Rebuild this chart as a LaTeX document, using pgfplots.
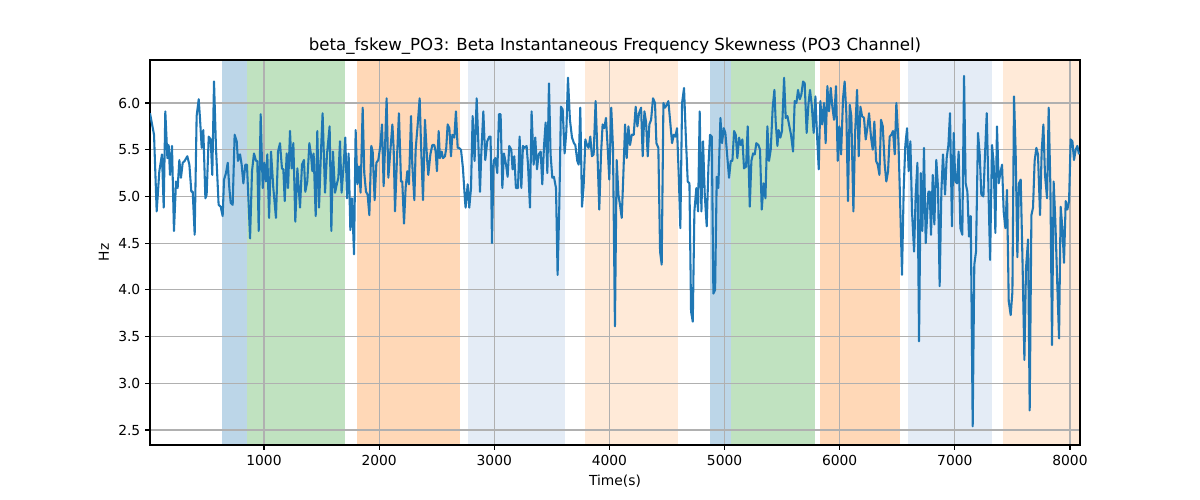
\documentclass[border=0pt]{standalone}
\usepackage{pgfplots}
\pgfplotsset{compat=1.18}
\usepackage{fontspec}
\setmainfont{DejaVu Sans}
\definecolor{tabblue}{RGB}{31,119,180}
\definecolor{spanblue}{RGB}{188,214,232}
\definecolor{spangreen}{RGB}{192,226,192}
\definecolor{spanorange}{RGB}{255,216,183}
\definecolor{spanlblue}{RGB}{228,236,246}
\definecolor{spanlorange}{RGB}{255,234,216}
\definecolor{gridgray}{RGB}{176,176,176}
\begin{document}
\begin{tikzpicture}
\begin{axis}[
  set layers,
  scale only axis,
  anchor=south west,
  at={(1.5in,0.55in)},
  width=9.3in, height=3.85in,
  xmin=10, xmax=8087, ymin=2.34, ymax=6.46,
  xtick={1000,2000,3000,4000,5000,6000,7000,8000},
  ytick={2.5,3.0,3.5,4.0,4.5,5.0,5.5,6.0},
  yticklabel style={/pgf/number format/.cd,fixed,fixed zerofill,precision=1},
  xticklabel style={/pgf/number format/.cd,1000 sep={}},
  /pgf/number format/assume math mode=true,
  tick label style={font=\fontsize{10}{12}\selectfont},
  grid=major,
  major grid style={gridgray, line width=0.8pt},
  tick align=outside,
  xtick pos=bottom, ytick pos=left,
  major tick length=3.5pt,
  tick style={black, line width=0.8pt},
  axis line style={line width=0.8pt},
  title={beta\_fskew\_PO3: Beta Instantaneous Frequency Skewness (PO3 Channel)},
  title style={font=\fontsize{12}{14}\selectfont, yshift=-5.5pt},
  xlabel={Time(s)}, ylabel={Hz},
  label style={font=\fontsize{10}{12}\selectfont},
  xlabel style={yshift=0pt},
  ylabel style={yshift=0pt},
]
\addplot[on layer=axis background, draw=none, fill=spanblue] coordinates {(635,6.46) (852,6.46)} \closedcycle;
\addplot[on layer=axis background, draw=none, fill=spangreen] coordinates {(852,6.46) (1703,6.46)} \closedcycle;
\addplot[on layer=axis background, draw=none, fill=spanorange] coordinates {(1808,6.46) (2702,6.46)} \closedcycle;
\addplot[on layer=axis background, draw=none, fill=spanlblue] coordinates {(2772,6.46) (3614,6.46)} \closedcycle;
\addplot[on layer=axis background, draw=none, fill=spanlorange] coordinates {(3788,6.46) (4596,6.46)} \closedcycle;
\addplot[on layer=axis background, draw=none, fill=spanblue] coordinates {(4874,6.46) (5056,6.46)} \closedcycle;
\addplot[on layer=axis background, draw=none, fill=spangreen] coordinates {(5056,6.46) (5785,6.46)} \closedcycle;
\addplot[on layer=axis background, draw=none, fill=spanorange] coordinates {(5829,6.46) (6524,6.46)} \closedcycle;
\addplot[on layer=axis background, draw=none, fill=spanlblue] coordinates {(6593,6.46) (7323,6.46)} \closedcycle;
\addplot[on layer=axis background, draw=none, fill=spanlorange] coordinates {(7418,6.46) (8087,6.46)} \closedcycle;
\addplot[tabblue, line width=1.5pt, line join=round, mark=none] coordinates {
(10,5.89) (45,5.66) (68,4.84) (91,5.27) (114,5.45) (129,4.88) (143,5.91) (161,5.41) (172,5.55) (184,5.23) (201,5.54) (218,4.63) (236,5.16) (250,5.09) (265,5.39) (279,5.20) (294,5.36) (311,5.38) (334,5.43) (352,5.34) (369,5.05) (381,5.05) (398,4.59) (415,5.86) (433,6.04) (444,5.84) (459,5.52) (473,5.71) (491,4.98) (502,5.02) (520,5.64) (537,5.61) (551,5.23) (566,6.23) (583,5.52) (606,4.91) (624,4.89) (641,4.79) (653,5.18) (670,5.25) (685,5.36) (699,5.09) (711,4.93) (728,4.91) (745,5.66) (763,5.59) (774,5.38) (792,5.45) (806,5.34) (821,5.14) (838,5.34) (852,5.34) (867,4.91) (879,4.55) (896,5.27) (913,5.46) (931,5.38) (942,5.38) (954,4.63) (971,5.88) (989,5.09) (1003,5.36) (1017,5.16) (1029,5.45) (1044,4.77) (1061,5.48) (1081,5.09) (1104,4.77) (1122,5.48) (1139,5.57) (1156,5.30) (1168,5.29) (1180,4.95) (1197,5.46) (1209,5.09) (1226,5.70) (1240,5.30) (1255,5.57) (1272,4.73) (1290,5.30) (1313,4.88) (1330,5.34) (1347,5.39) (1359,5.05) (1376,5.16) (1394,5.57)
(1408,5.45) (1420,5.27) (1431,5.46) (1449,4.79) (1463,5.70) (1478,4.88) (1495,5.48) (1509,5.89) (1530,5.04) (1547,5.45) (1570,5.75) (1585,4.63) (1599,5.48) (1617,5.04) (1634,5.14) (1646,5.20) (1660,5.59) (1674,5.04) (1692,5.34) (1706,5.63) (1721,4.98) (1735,5.46) (1750,4.64) (1764,4.98) (1782,4.38) (1796,5.71) (1811,5.13) (1825,5.32) (1839,5.04) (1857,5.95) (1871,5.25) (1886,5.05) (1900,5.02) (1915,4.80) (1932,5.54) (1944,5.48) (1961,4.96) (1976,5.36) (1993,5.39) (2010,5.54) (2025,5.77) (2039,5.11) (2051,5.52) (2065,6.05) (2080,5.20) (2097,5.48) (2115,5.77) (2126,5.52) (2138,4.84) (2155,5.41) (2172,5.89) (2190,5.16) (2201,5.16) (2216,4.71) (2230,5.09) (2245,5.27) (2259,5.13) (2277,5.86) (2288,5.34) (2306,4.96) (2317,5.50) (2335,5.77) (2352,6.05) (2363,5.59) (2381,4.96) (2398,5.82) (2416,5.41) (2427,5.23) (2445,5.45) (2462,5.55) (2479,5.55) (2491,5.48) (2502,5.27) (2517,5.70) (2528,5.41) (2543,5.48) (2555,5.41) (2572,5.43) (2583,5.52) (2595,5.77) (2610,5.73) (2624,5.43) (2636,5.66) (2653,5.63) (2667,5.91) (2682,5.52) (2693,5.52) (2711,5.50) (2728,5.30) (2746,4.95)
(2751,4.88) (2769,5.13) (2783,4.88) (2798,5.09) (2812,5.86) (2829,5.38) (2847,6.05) (2861,5.59) (2876,5.05) (2887,5.45) (2905,5.91) (2922,5.39) (2939,5.59) (2957,5.64) (2968,5.64) (2980,4.50) (2994,5.38) (3009,5.41) (3026,5.25) (3041,5.88) (3055,5.88) (3070,5.09) (3084,5.46) (3102,5.34) (3116,5.21) (3130,5.54) (3148,5.50) (3159,5.29) (3174,5.43) (3188,5.09) (3206,5.09) (3220,5.64) (3235,5.09) (3249,5.54) (3264,5.52) (3281,5.54) (3293,5.34) (3310,4.88) (3324,5.91) (3342,5.34) (3356,5.63) (3371,5.29) (3385,5.45) (3403,5.48) (3417,5.13) (3432,5.54) (3446,5.79) (3461,5.25) (3475,6.21) (3489,5.45) (3504,5.20) (3518,5.21) (3536,5.09) (3550,4.16) (3565,4.91) (3579,5.96) (3594,5.93) (3611,5.46) (3626,5.70) (3640,6.27) (3657,5.82) (3675,5.63) (3692,5.57) (3704,5.55) (3721,5.38) (3733,5.34) (3747,5.95) (3762,4.89) (3776,5.11) (3791,5.61) (3805,5.55) (3819,5.52) (3834,5.64) (3848,5.43) (3863,5.45) (3880,6.02) (3898,5.39) (3912,4.86) (3927,5.45) (3941,5.77) (3956,5.73) (3970,5.84) (3985,5.52) (3999,5.18) (4016,5.95) (4031,5.52) (4048,3.61) (4063,5.39)
(4078,5.02) (4092,4.91) (4107,4.77) (4121,5.23) (4136,5.77) (4150,5.41) (4165,5.75) (4179,5.55) (4194,5.66) (4211,5.66) (4228,5.96) (4243,5.75) (4257,5.89) (4275,5.95) (4289,5.43) (4304,5.91) (4318,5.80) (4333,5.43) (4347,5.77) (4362,5.82) (4379,6.05) (4396,6.00) (4408,5.57) (4425,5.52) (4440,4.41) (4454,4.27) (4469,6.00) (4483,5.95) (4498,5.98) (4512,6.02) (4530,5.77) (4544,5.57) (4559,5.66) (4573,5.64) (4587,5.73) (4602,5.23) (4616,4.66) (4631,6.00) (4648,6.16) (4663,5.66) (4680,5.16) (4695,5.14) (4709,3.77) (4724,3.66) (4738,4.84) (4755,5.09) (4770,4.84) (4784,5.91) (4799,4.84) (4813,5.59) (4828,5.02) (4845,4.68) (4860,5.32) (4874,5.66) (4889,5.64) (4903,3.96) (4918,4.00) (4932,5.21) (4946,5.09) (4964,5.84) (4978,5.57) (4993,5.73) (5007,5.68) (5022,5.45) (5039,5.20) (5054,5.38) (5068,5.38) (5083,5.70) (5097,5.66) (5111,5.41) (5126,5.63) (5140,5.55) (5155,5.61) (5169,5.30) (5187,5.32) (5201,5.75) (5219,4.89) (5233,5.38) (5248,5.46) (5262,5.45) (5276,5.57) (5294,5.55) (5308,5.50) (5323,4.86) (5340,5.14) (5355,4.98) (5372,5.75) (5386,5.38) (5401,5.50) (5418,5.95) (5433,6.14)
(5444,5.80) (5459,5.54) (5470,5.71) (5485,5.63) (5499,5.70) (5517,6.27) (5531,5.84) (5546,5.86) (5563,5.75) (5577,5.66) (5595,5.48) (5609,6.02) (5624,6.00) (5638,6.14) (5653,6.04) (5667,6.09) (5682,6.23) (5696,6.21) (5713,5.68) (5728,5.98) (5742,6.14) (5757,5.98) (5774,5.68) (5789,6.07) (5803,5.66) (5818,5.29) (5832,6.02) (5847,5.77) (5864,6.00) (5878,5.57) (5893,6.18) (5907,5.91) (5922,6.16) (5936,5.96) (5951,5.82) (5968,6.18) (5983,5.38) (5997,5.75) (6012,5.45) (6029,6.05) (6043,6.23) (6058,5.88) (6072,4.95) (6087,5.98) (6101,5.86) (6119,4.84) (6133,5.66) (6151,6.14) (6165,5.43) (6180,5.96) (6194,5.86) (6211,5.84) (6226,5.61) (6240,5.73) (6255,5.89) (6272,5.63) (6287,5.50) (6301,5.80) (6316,5.38) (6330,5.34) (6345,5.23) (6359,5.82) (6374,5.75) (6391,5.34) (6405,5.16) (6420,5.27) (6434,5.64) (6449,5.66) (6463,5.70) (6478,5.45) (6492,6.00) (6510,5.59) (6524,4.98) (6541,4.16) (6556,5.09) (6570,5.55) (6585,5.73) (6599,5.27) (6614,5.59) (6628,4.84) (6646,4.41) (6660,5.02) (6675,5.36) (6689,3.45) (6704,5.25) (6718,4.63) (6732,5.52) (6747,4.50)
(6770,5.05) (6782,5.05) (6793,4.59) (6808,5.23) (6822,4.70) (6839,5.39) (6854,5.09) (6868,4.04) (6883,5.05) (6897,5.45) (6915,5.02) (6929,5.41) (6944,5.55) (6958,5.89) (6975,4.68) (6990,5.68) (7004,5.16) (7019,5.14) (7033,5.48) (7048,4.66) (7065,4.59) (7080,6.29) (7094,5.14) (7109,5.05) (7123,4.57) (7138,4.79) (7155,2.54) (7169,4.27) (7184,4.41) (7201,5.68) (7216,5.45) (7230,5.02) (7248,5.00) (7262,5.45) (7277,5.89) (7291,5.13) (7306,4.32) (7323,5.55) (7337,5.36) (7352,4.61) (7366,5.75) (7381,5.14) (7395,5.25) (7410,5.34) (7424,4.84) (7439,4.66) (7453,5.07) (7468,3.88) (7485,3.73) (7500,3.98) (7514,6.07) (7528,5.48) (7543,4.35) (7557,5.14) (7572,5.18) (7589,4.23) (7604,3.25) (7618,4.23) (7636,4.54) (7650,2.71) (7665,4.80) (7679,4.88) (7693,5.38) (7708,5.52) (7722,5.45) (7740,4.80) (7754,5.48) (7769,5.77) (7783,5.23) (7801,4.98) (7815,5.95) (7830,5.09) (7844,3.41) (7858,5.16) (7873,4.73) (7890,4.05) (7905,3.48) (7919,4.89) (7934,4.66) (7948,4.29) (7963,4.95) (7977,4.86) (7992,4.95) (8006,5.61) (8021,5.59) (8035,5.39) (8050,5.50) (8064,5.54) (8078,5.45)
};
\end{axis}
\path (0,0) rectangle (12in,5in);
\end{tikzpicture}
\end{document}
